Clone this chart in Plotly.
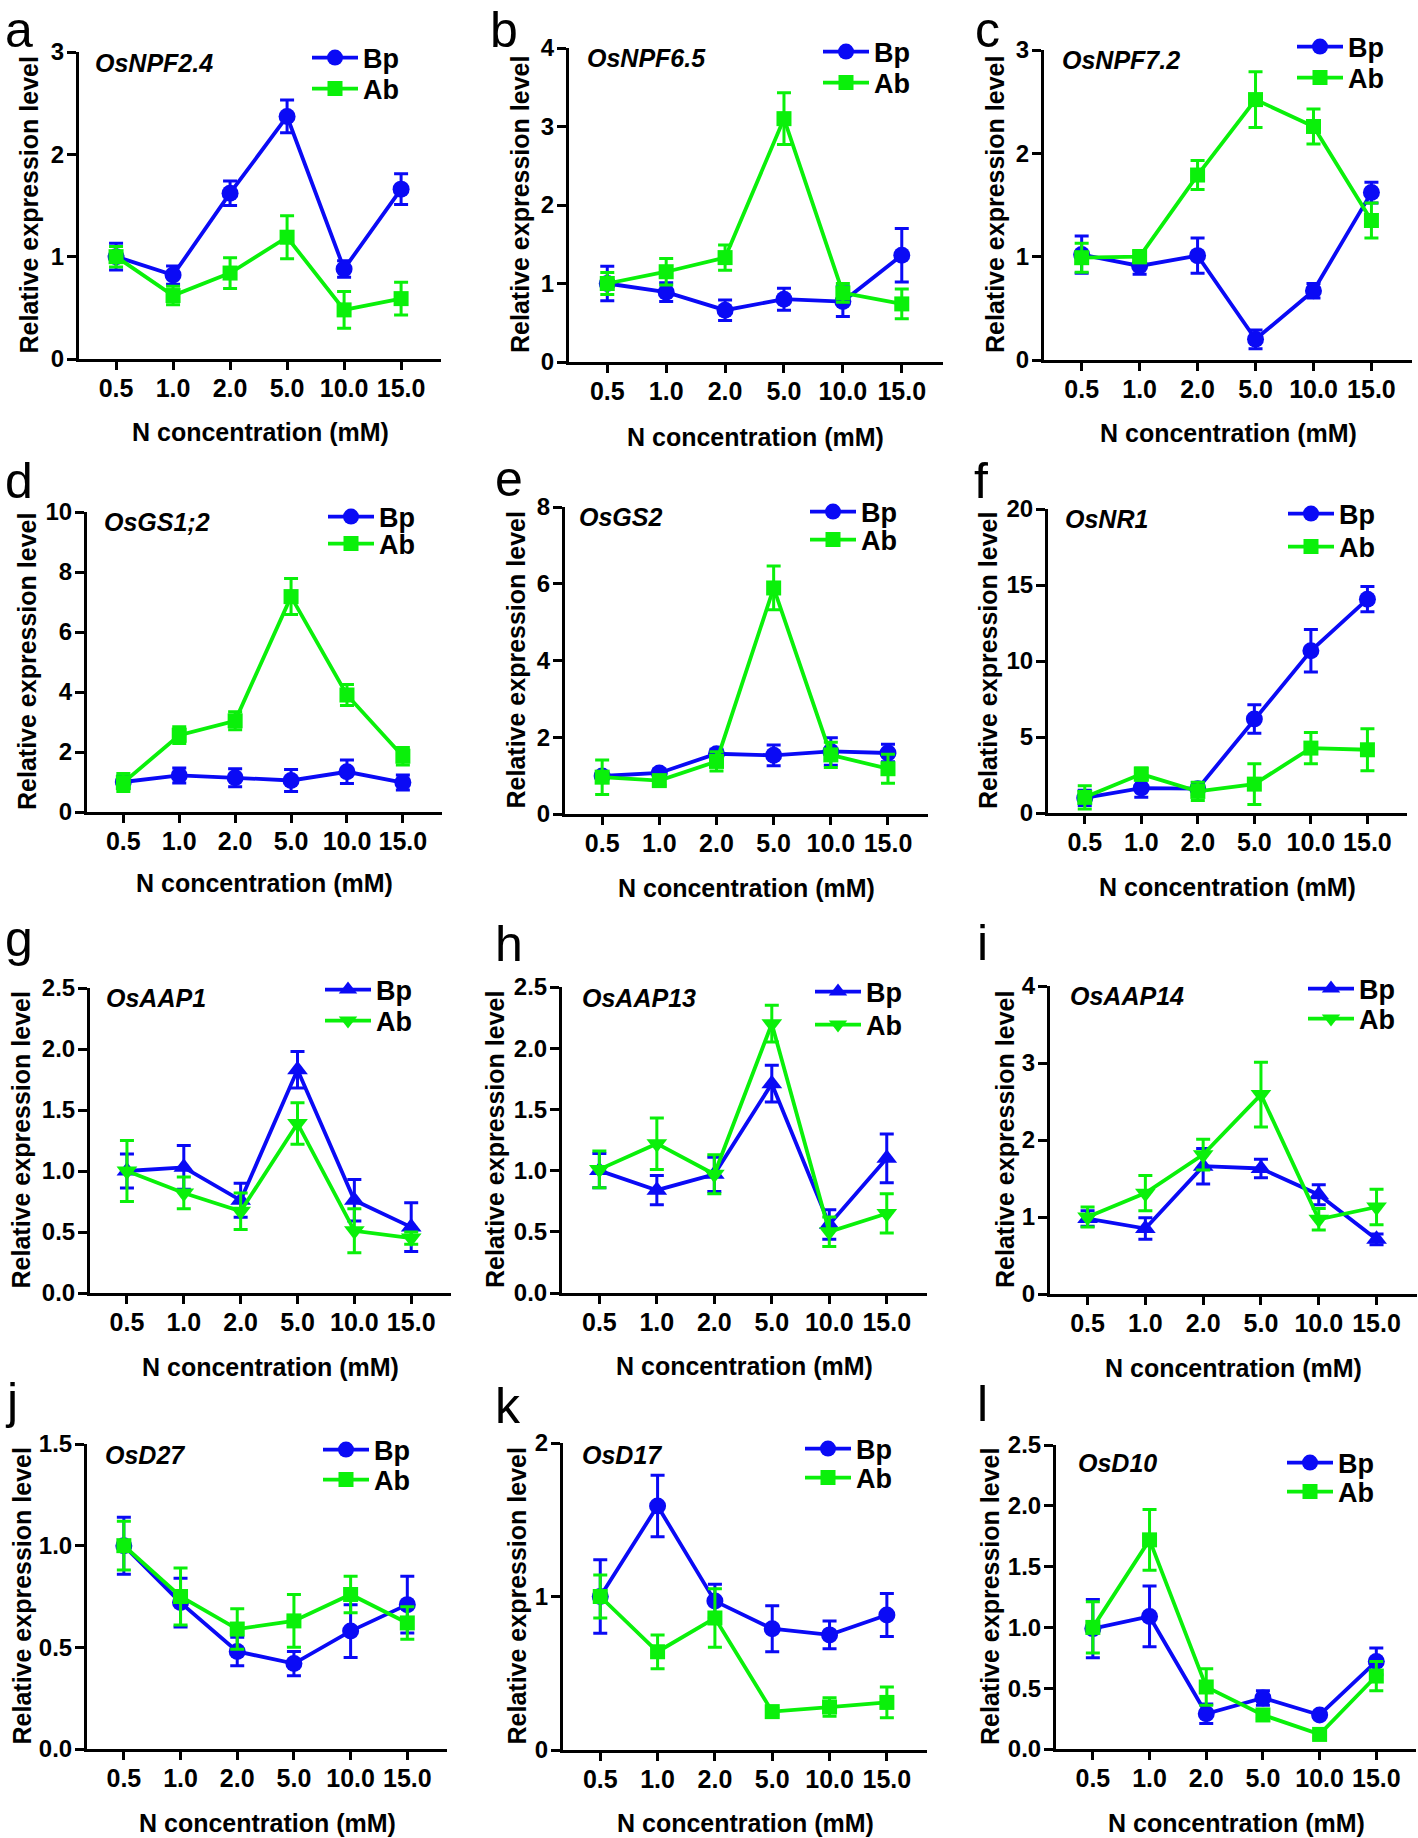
import plotly.graph_objects as go

# ---------------- data ----------------
CONC = ["0.5", "1.0", "2.0", "5.0", "10.0", "15.0"]
SERIES = ["Bp", "Ab"]

GENES = ["OsNPF2.4", "OsNPF6.5", "OsNPF7.2", "OsGS1;2", "OsGS2", "OsNR1",
         "OsAAP1", "OsAAP13", "OsAAP14", "OsD27", "OsD17", "OsD10"]
LETTERS = ["a", "b", "c", "d", "e", "f", "g", "h", "i", "j", "k", "l"]

NPF24_BP = [1.00, 0.82, 1.62, 2.37, 0.88, 1.66]
NPF24_BP_SE = [0.13, 0.09, 0.12, 0.16, 0.08, 0.15]
NPF24_AB = [1.00, 0.62, 0.84, 1.19, 0.48, 0.59]
NPF24_AB_SE = [0.10, 0.09, 0.15, 0.21, 0.18, 0.16]

NPF65_BP = [1.00, 0.89, 0.66, 0.80, 0.77, 1.36]
NPF65_BP_SE = [0.22, 0.12, 0.13, 0.14, 0.19, 0.34]
NPF65_AB = [1.00, 1.15, 1.33, 3.10, 0.88, 0.74]
NPF65_AB_SE = [0.14, 0.17, 0.16, 0.33, 0.12, 0.19]

NPF72_BP = [1.02, 0.91, 1.01, 0.20, 0.67, 1.62]
NPF72_BP_SE = [0.18, 0.08, 0.17, 0.09, 0.07, 0.10]
NPF72_AB = [0.99, 1.00, 1.79, 2.52, 2.26, 1.35]
NPF72_AB_SE = [0.14, 0.06, 0.14, 0.27, 0.17, 0.17]

GS12_BP = [1.00, 1.22, 1.14, 1.05, 1.34, 0.98]
GS12_BP_SE = [0.20, 0.25, 0.30, 0.37, 0.39, 0.25]
GS12_AB = [0.98, 2.56, 3.04, 7.18, 3.90, 1.86]
GS12_AB_SE = [0.30, 0.28, 0.30, 0.60, 0.35, 0.29]

GS2_BP = [0.99, 1.07, 1.57, 1.53, 1.63, 1.59]
GS2_BP_SE = [0.10, 0.10, 0.12, 0.27, 0.36, 0.23]
GS2_AB = [0.96, 0.87, 1.37, 5.89, 1.54, 1.18]
GS2_AB_SE = [0.45, 0.12, 0.25, 0.57, 0.33, 0.38]

NR1_BP = [0.99, 1.64, 1.60, 6.18, 10.67, 14.07]
NR1_BP_SE = [0.50, 0.60, 0.40, 0.94, 1.40, 0.83]
NR1_AB = [1.03, 2.56, 1.42, 1.90, 4.27, 4.16]
NR1_AB_SE = [0.77, 0.40, 0.60, 1.34, 1.03, 1.38]

AAP1_BP = [1.00, 1.03, 0.76, 1.83, 0.76, 0.54]
AAP1_BP_SE = [0.14, 0.18, 0.14, 0.15, 0.17, 0.20]
AAP1_AB = [1.00, 0.82, 0.67, 1.39, 0.51, 0.45]
AAP1_AB_SE = [0.25, 0.13, 0.15, 0.17, 0.18, 0.05]

AAP13_BP = [1.00, 0.84, 0.97, 1.71, 0.56, 1.10]
AAP13_BP_SE = [0.14, 0.12, 0.14, 0.15, 0.12, 0.20]
AAP13_AB = [1.01, 1.22, 0.97, 2.20, 0.50, 0.65]
AAP13_AB_SE = [0.15, 0.21, 0.16, 0.15, 0.12, 0.16]

AAP14_BP = [0.98, 0.85, 1.66, 1.63, 1.29, 0.71]
AAP14_BP_SE = [0.10, 0.14, 0.23, 0.12, 0.13, 0.07]
AAP14_AB = [1.00, 1.31, 1.81, 2.59, 0.97, 1.13]
AAP14_AB_SE = [0.13, 0.23, 0.20, 0.42, 0.14, 0.23]

D27_BP = [1.00, 0.72, 0.48, 0.42, 0.58, 0.71]
D27_BP_SE = [0.14, 0.12, 0.07, 0.06, 0.13, 0.14]
D27_AB = [1.00, 0.75, 0.59, 0.63, 0.76, 0.62]
D27_AB_SE = [0.12, 0.14, 0.10, 0.13, 0.09, 0.08]

D17_BP = [1.00, 1.59, 0.97, 0.79, 0.75, 0.88]
D17_BP_SE = [0.24, 0.20, 0.11, 0.15, 0.09, 0.14]
D17_AB = [1.00, 0.64, 0.86, 0.25, 0.28, 0.31]
D17_AB_SE = [0.14, 0.11, 0.19, 0.02, 0.06, 0.10]

D10_BP = [0.99, 1.09, 0.29, 0.42, 0.28, 0.72]
D10_BP_SE = [0.24, 0.25, 0.08, 0.06, 0.02, 0.11]
D10_AB = [1.00, 1.72, 0.51, 0.28, 0.12, 0.60]
D10_AB_SE = [0.21, 0.25, 0.15, 0.03, 0.03, 0.12]

Y_MAX = [3, 4, 3, 10, 8, 20, 2.5, 2.5, 4, 1.5, 2, 2.5]
Y_STEP = [1, 1, 1, 2, 2, 5, 0.5, 0.5, 1, 0.5, 1, 0.5]

DATA = [
    (NPF24_BP, NPF24_BP_SE, NPF24_AB, NPF24_AB_SE),
    (NPF65_BP, NPF65_BP_SE, NPF65_AB, NPF65_AB_SE),
    (NPF72_BP, NPF72_BP_SE, NPF72_AB, NPF72_AB_SE),
    (GS12_BP, GS12_BP_SE, GS12_AB, GS12_AB_SE),
    (GS2_BP, GS2_BP_SE, GS2_AB, GS2_AB_SE),
    (NR1_BP, NR1_BP_SE, NR1_AB, NR1_AB_SE),
    (AAP1_BP, AAP1_BP_SE, AAP1_AB, AAP1_AB_SE),
    (AAP13_BP, AAP13_BP_SE, AAP13_AB, AAP13_AB_SE),
    (AAP14_BP, AAP14_BP_SE, AAP14_AB, AAP14_AB_SE),
    (D27_BP, D27_BP_SE, D27_AB, D27_AB_SE),
    (D17_BP, D17_BP_SE, D17_AB, D17_AB_SE),
    (D10_BP, D10_BP_SE, D10_AB, D10_AB_SE),
]

# ---------------- layout geometry (pixels) ----------------
W, H = 1418, 1838
# x0, x1, ytop, ybot, ytitle_x, xtitle_y, letter_x, letter_base, gene_x, gene_y,
# legend line start x, Bp row y, Ab row y
GEOM = [
    (79, 441, 52, 359, 29, 432, 3, None, 93, 63, 312, 58, 89),
    (569, 943, 48, 362, 520, 437, 488, None, 585, 58, 823, 52, 83),
    (1044, 1412, 50, 360, 995, 433, 973, None, 1060, 60, 1297, 47, 78),
    (87, 442, 512, 812, 27, 883, 3, 500, 102, 522, 328, 517, 544),
    (565, 928, 507, 814, 516, 888, 493, 498, 577, 517, 810, 512, 540),
    (1048, 1407, 509, 813, 988, 887, 972, 500, 1063, 519, 1288, 514, 547),
    (90, 451, 988, 1293, 20, 1367, 3, 958, 104, 998, 325, 990, 1021),
    (562, 927, 987, 1293, 495, 1366, 493, 963, 580, 998, 815, 992, 1025),
    (1050, 1417, 986, 1294, 1005, 1368, 975, 962, 1068, 996, 1308, 989, 1019),
    (87, 447, 1444, 1749, 21, 1823, 3, 1420, 103, 1455, 323, 1450, 1480),
    (563, 927, 1443, 1750, 516, 1823, 493, 1425, 580, 1455, 805, 1449, 1478),
    (1056, 1416, 1445, 1749, 990, 1823, 975, 1423, 1076, 1463, 1287, 1463, 1492),
]


def fx(p):
    return p / W


def fy(p):
    return 1 - p / H


FONT = "Liberation Sans, Arial, Helvetica, sans-serif"
BLUE = "#0A0AF5"
GREEN = "#0AF00A"
COLORS = [BLUE, GREEN]

fig = go.Figure()
layout = dict(
    width=W, height=H,
    margin=dict(l=0, r=0, t=0, b=0, pad=0, autoexpand=False),
    paper_bgcolor="white", plot_bgcolor="white",
    font=dict(family=FONT, color="black"),
    showlegend=True,
)
annotations = []

for i in range(12):
    (x0, x1, yt, yb, ytx, xty, lx, lb, gx, gy, legx, legy_bp, legy_ab) = GEOM[i]
    bp, bpse, ab, abse = DATA[i]
    n = "" if i == 0 else str(i + 1)
    tri = 6 <= i <= 8
    symbols = ["triangle-up", "triangle-down"] if tri else ["circle", "square"]
    sizes = [18, 18] if tri else [17, 15]
    for s, (vals, errs) in enumerate([(bp, bpse), (ab, abse)]):
        idx = 2 * i + s
        legname = "legend" if idx == 0 else "legend" + str(idx + 1)
        fig.add_trace(go.Scatter(
            x=CONC, y=vals, name=SERIES[s], mode="lines+markers",
            xaxis="x" + n, yaxis="y" + n, legend=legname,
            line=dict(color=COLORS[s], width=3.8),
            marker=dict(symbol=symbols[s], size=sizes[s], color=COLORS[s]),
            error_y=dict(type="data", array=errs, visible=True,
                         color=COLORS[s], thickness=3, width=7),
            cliponaxis=False,
        ))
        layout[legname] = dict(
            x=fx(legx - 5), y=fy(legy_bp if s == 0 else legy_ab),
            xanchor="left", yanchor="middle",
            bgcolor="rgba(0,0,0,0)", borderwidth=0,
            font=dict(family=FONT, size=27, color="black", weight="bold"),
            itemwidth=46,
        )
    layout["xaxis" + n] = dict(
        domain=[fx(x0), fx(x1)], anchor="y" + n, type="category",
        range=[-0.65, 5.7], showgrid=False, zeroline=False, automargin=False,
        showline=True, linecolor="black", linewidth=3,
        ticks="outside", ticklen=8, tickwidth=3, tickcolor="black",
        ticklabelstandoff=-3,
        tickfont=dict(family=FONT, size=25, color="black", weight="bold"),
    )
    layout["yaxis" + n] = dict(
        domain=[fy(yb), fy(yt)], anchor="x" + n,
        range=[0, Y_MAX[i]], tick0=0, dtick=Y_STEP[i],
        tickformat=".1f" if Y_STEP[i] < 1 else "d",
        showgrid=False, zeroline=False, automargin=False,
        showline=True, linecolor="black", linewidth=3,
        ticks="outside", ticklen=9, tickwidth=3, tickcolor="black",
        ticklabelstandoff=-2,
        tickfont=dict(family=FONT, size=24, color="black", weight="bold"),
    )
    # panel letter
    if lb is None:
        annotations.append(dict(
            text=LETTERS[i], x=fx(lx), y=1, xref="paper", yref="paper",
            xanchor="left", yanchor="top", showarrow=False,
            font=dict(family=FONT, size=50, color="black"),
        ))
    else:
        annotations.append(dict(
            text=LETTERS[i], x=fx(lx), y=fy(lb + 11), xref="paper", yref="paper",
            xanchor="left", yanchor="bottom", showarrow=False,
            font=dict(family=FONT, size=50, color="black"),
        ))
    # gene name
    annotations.append(dict(
        text="<b><i>" + GENES[i] + "</i></b>", x=fx(gx), y=fy(gy),
        xref="paper", yref="paper", xanchor="left", yanchor="middle",
        showarrow=False, font=dict(family=FONT, size=25, color="black"),
    ))
    # y title
    annotations.append(dict(
        text="<b>Relative expression level</b>", x=fx(ytx), y=fy((yt + yb) / 2),
        xref="paper", yref="paper", xanchor="center", yanchor="middle",
        textangle=-90, showarrow=False,
        font=dict(family=FONT, size=25, color="black"),
    ))
    # x title
    annotations.append(dict(
        text="<b>N concentration (mM)</b>", x=fx((x0 + x1) / 2), y=fy(xty),
        xref="paper", yref="paper", xanchor="center", yanchor="middle",
        showarrow=False, font=dict(family=FONT, size=25, color="black"),
    ))

layout["annotations"] = annotations
fig.update_layout(**layout)
fig.write_html("out.html", config={"displayModeBar": False},
               post_script="document.body.style.margin='0px';")
